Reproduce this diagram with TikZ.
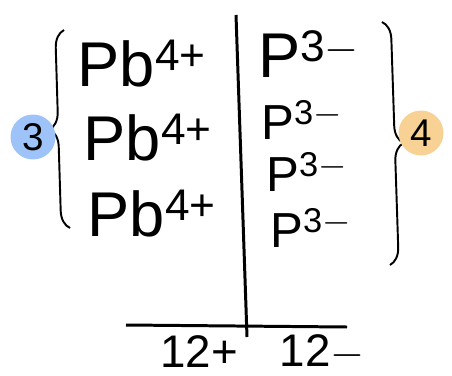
\documentclass[tikz,border=0pt]{standalone}
\usepackage{fontspec}
\setmainfont{Liberation Sans}
\usepackage{tikz}
\usetikzlibrary{decorations.pathreplacing}
\definecolor{countblue}{HTML}{9DC3F8}
\definecolor{countorange}{HTML}{F8D294}

\tikzset{
  ion/.style={inner sep=0pt, font=\fontsize{36}{40}\selectfont},
  anion/.style={inner sep=0pt, font=\fontsize{28}{30}\selectfont},
  charge/.style={inner sep=0pt, font=\fontsize{26}{28}\selectfont},
  count/.style={circle, inner sep=0pt, minimum size=0.9cm, font=\fontsize{22}{24}\selectfont},
  hbrace/.style={line width=1.1pt, decorate, decoration={brace, amplitude=10pt}}
}

\begin{document}
\begin{tikzpicture}[x=0.02cm,y=-0.02cm]
\useasboundingbox (0,0) rectangle (452,375);
% the T chart
\draw[line width=1.7pt] (236,15) -- (247,337);
\draw[line width=1.7pt] (126,325) -- (347,327);
% lead ions
\node[ion] (pb1) at (142,64) {Pb\textsuperscript{4+}};
\node[ion] (pb2) at (148,138) {Pb\textsuperscript{4+}};
\node[ion] (pb3) at (152,214) {Pb\textsuperscript{4+}};
% phosphide ions
\node[ion] (p1) at (309,54) {P\textsuperscript{3$-$}};
\node[anion] (p2) at (302,120) {P\textsuperscript{3$-$}};
\node[anion] (p3) at (307,172) {P\textsuperscript{3$-$}};
\node[anion] (p4) at (311,228) {P\textsuperscript{3$-$}};
% totals
\node[charge] (plus) at (199,352) {12+};
\node[charge] (minus) at (322,352) {12$-$};
% braces and counts
\draw[hbrace] (70,228) -- (64,30) coordinate[midway] (lb);
\draw[hbrace] (382,22) -- (390,265) coordinate[midway] (rb);
\node[count, fill=countblue] (three) at (33,137) {3};
\node[count, fill=countorange] (four) at (421,133) {4};
\end{tikzpicture}
\end{document}
